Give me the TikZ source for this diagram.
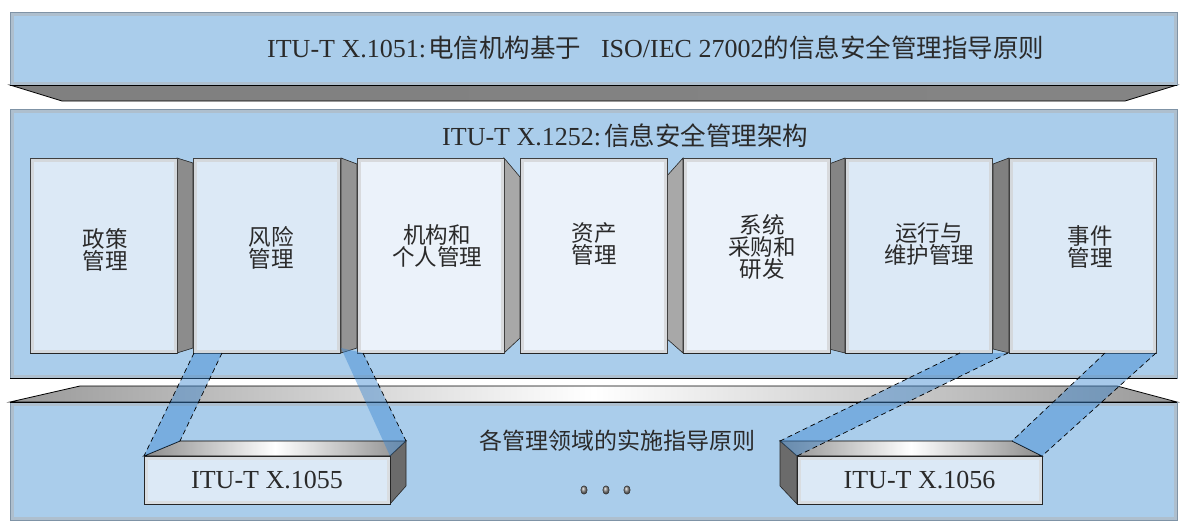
\documentclass[tikz,border=0pt]{standalone}
\usepackage{fontspec}
\setmainfont{Liberation Serif}
\newfontfamily\cjk{Noto Sans CJK SC}
\usetikzlibrary{calc}
\definecolor{slab}{HTML}{AACDEB}
\definecolor{boxA}{HTML}{DCE9F6}
\definecolor{boxB}{HTML}{EBF2FA}
\definecolor{txt}{HTML}{2A2A2A}
\definecolor{rim}{HTML}{7F93A6}
\definecolor{band}{HTML}{3C88D2}
\tikzset{
  slabface/.style={fill=slab, draw=rim, line width=1pt},
  slabglow/.style={draw=#1, line width=3pt, opacity=0.5},
  modbox/.style={draw=black!75, line width=0.7pt, minimum width=147pt, minimum height=195pt, anchor=north west, inner sep=0pt, outer sep=0pt},
  rimglow/.style={draw=#1, line width=3pt, opacity=0.7},
  sideface/.style={draw=black!85, line width=0.6pt, fill=#1},
  lbl/.style={text=txt, align=center, font=\cjk\fontsize{22.5}{22}\selectfont, inner sep=0pt},
  bandfill/.style={fill=band, fill opacity=0.45, draw=none},
  bandedge/.style={draw=black, dash pattern=on 5pt off 3.5pt, line width=0.7pt},
  greybar/.style={draw=black, line width=0.8pt, left color=#1, right color=#1, middle color=white},
  smallface/.style={draw=black!85, line width=0.8pt, fill=boxA, minimum height=48pt, inner sep=0pt, outer sep=0pt, anchor=north west, font=\fontsize{26}{26}\selectfont, text=txt},
}
\begin{document}
\begin{tikzpicture}[x=1pt,y=-1pt]
\useasboundingbox[fill=white] (0,0) rectangle (1180,522);

% ---------- top slab ----------
\draw[draw=black, line width=0.8pt, left color=black!50, middle color=black!22, right color=black!48]
  (10,85) -- (1177,85) -- (1125,101) -- (62,101) -- cycle;
\node[slabface, minimum width=1167pt, minimum height=73pt, anchor=north west, inner sep=0pt, outer sep=0pt] (top) at (10,12) {};
\draw[slabglow=black!30] ($(top.north west)+(2,2)$) rectangle ($(top.south east)+(-2,-2)$);
\draw[black, line width=1pt] (top.south west) -- (top.south east);
\node[anchor=base west, text=txt, inner sep=0pt, font=\fontsize{26}{26}\selectfont] (toptitle) at (267,57)
  {ITU-T X.1051:\hspace{2pt}{\cjk\fontsize{25.5}{25.5}\selectfont 电信机构基于}\hspace{20pt}ISO/IEC 27002{\cjk\fontsize{25.5}{25.5}\selectfont 的信息安全管理指导原则}};

% ---------- middle slab ----------
\node[slabface, minimum width=1167pt, minimum height=269pt, anchor=north west, inner sep=0pt, outer sep=0pt] (mid) at (10,109) {};
\draw[slabglow=black!30] ($(mid.north west)+(2,2)$) rectangle ($(mid.south east)+(-2,-2)$);
\draw[black, line width=1pt] (mid.south west) -- (mid.south east);
\node[anchor=base west, text=txt, inner sep=0pt, font=\fontsize{26}{26}\selectfont] (midtitle) at (442,145.5)
  {ITU-T X.1252:\hspace{3pt}{\cjk\fontsize{25.5}{25.5}\selectfont 信息安全管理架构}};

% ---------- bottom slab ----------
\draw[greybar=black!40] (10,402) -- (80,386) -- (1117,386) -- (1177,402) -- cycle;
\node[slabface, minimum width=1167pt, minimum height=118pt, anchor=north west, inner sep=0pt, outer sep=0pt] (bot) at (10,402) {};
\draw[slabglow=black!30] ($(bot.north west)+(2,2)$) rectangle ($(bot.south east)+(-2,-2)$);
\draw[black, line width=0.8pt] (bot.north west) -- (bot.north east);
\node[lbl, font=\cjk\fontsize{23}{23}\selectfont] (bottitle) at (617,441) {各管理领域的实施指导原则};

% ---------- module boxes ----------
\coordinate (c1) at (30,158);
\coordinate (c2) at (193,158);
\coordinate (c3) at (357,158);
\coordinate (c4) at (520,158);
\coordinate (c5) at (683,158);
\coordinate (c6) at (845,158);
\coordinate (c7) at (1009,158);

% side faces
\draw[sideface=black!45] (177,158) -- (193,163) -- (193,348) -- (177,353) -- cycle;
\draw[sideface=black!42] (341,158) -- (357,164) -- (357,348) -- (341,353) -- cycle;
\draw[sideface=black!34] (504,158) -- (520,177) -- (520,338) -- (504,353) -- cycle;
\draw[sideface=black!34] (683,158) -- (666,177) -- (666,338) -- (683,353) -- cycle;
\draw[sideface=black!48] (845,158) -- (829,164) -- (829,349) -- (845,353) -- cycle;
\draw[sideface=black!50] (1009,158) -- (993,164) -- (993,349) -- (1009,353) -- cycle;

\node[modbox, fill=boxA] (b1) at (c1) {};
\node[modbox, fill=boxA] (b2) at (c2) {};
\node[modbox, fill=boxB] (b3) at (c3) {};
\node[modbox, fill=boxB] (b4) at (c4) {};
\node[modbox, fill=boxB] (b5) at (c5) {};
\node[modbox, fill=boxA] (b6) at (c6) {};
\node[modbox, fill=boxA] (b7) at (c7) {};
\foreach \b in {b1,b2,b3,b4,b5,b6,b7}{
  \draw[rimglow=black!18] ($(\b.north west)+(2,2)$) rectangle ($(\b.south east)+(-2,-2)$);
  \draw[black!85, line width=0.9pt] (\b.south west) -- (\b.south east);
}

\node[lbl] (t1) at (105,250) {政策\\管理};
\node[lbl] (t2) at (271,248) {风险\\管理};
\node[lbl] (t3) at (437,246) {机构和\\个人管理};
\node[lbl] (t4) at (594,244) {资产\\管理};
\node[lbl] (t5) at (762,247) {系统\\采购和\\研发};
\node[lbl] (t6) at (929,244) {运行与\\维护管理};
\node[lbl] (t7) at (1090,247) {事件\\管理};

% ---------- small boxes ----------
\draw[greybar=black!45] (144,456) -- (180,441) -- (406,441) -- (390,456) -- cycle;
\draw[sideface=black!58] (390,456) -- (406,441) -- (406,486) -- (390,504) -- cycle;
\node[smallface, minimum width=246pt] (x1055) at (144,456) {ITU-T X.1055};
\draw[rimglow=black!15] ($(x1055.north west)+(2,2)$) rectangle ($(x1055.south east)+(-2,-2)$);

\draw[greybar=black!45] (780,441) -- (1012,441) -- (1042,456) -- (797,456) -- cycle;
\draw[sideface=black!58] (797,456) -- (780,441) -- (780,486) -- (797,504) -- cycle;
\node[smallface, minimum width=245pt] (x1056) at (797,456) {ITU-T X.1056};
\draw[rimglow=black!15] ($(x1056.north west)+(2,2)$) rectangle ($(x1056.south east)+(-2,-2)$);

% ---------- dots ----------
\foreach \x in {584,606,627}{
  \draw[black!80, line width=0.5pt, ball color=black!45] (\x,490) ellipse (3.2 and 4.2);
}

% ---------- projection bands ----------
\coordinate (L1) at (194,353); \coordinate (L2) at (222,353);
\coordinate (L3) at (180,441); \coordinate (L4) at (144,456);
\coordinate (R1) at (341,348); \coordinate (R2) at (363,353);
\coordinate (R3) at (406,441); \coordinate (R4) at (390,456);
\coordinate (A1) at (960,353); \coordinate (A2) at (1008,353);
\coordinate (A3) at (797,456); \coordinate (A4) at (780,441);
\coordinate (B1) at (1105,353); \coordinate (B2) at (1156,353);
\coordinate (B3) at (1042,456); \coordinate (B4) at (1012,441);

\fill[bandfill] (L1) -- (L2) -- (L3) -- (L4) -- cycle;
\fill[bandfill] (R1) -- (R2) -- (R3) -- (R4) -- cycle;
\fill[bandfill] (A1) -- (A2) -- (A3) -- (A4) -- cycle;
\fill[bandfill] (B1) -- (B2) -- (B3) -- (B4) -- cycle;
\draw[bandedge] (L1) -- (L4);
\draw[bandedge] (L2) -- (L3);
\draw[bandedge] (R2) -- (R3);
\draw[bandedge] (A1) -- (A4);
\draw[bandedge] (A2) -- (A3);
\draw[bandedge] (B1) -- (B4);
\draw[bandedge] (B2) -- (B3);
\end{tikzpicture}
\end{document}
